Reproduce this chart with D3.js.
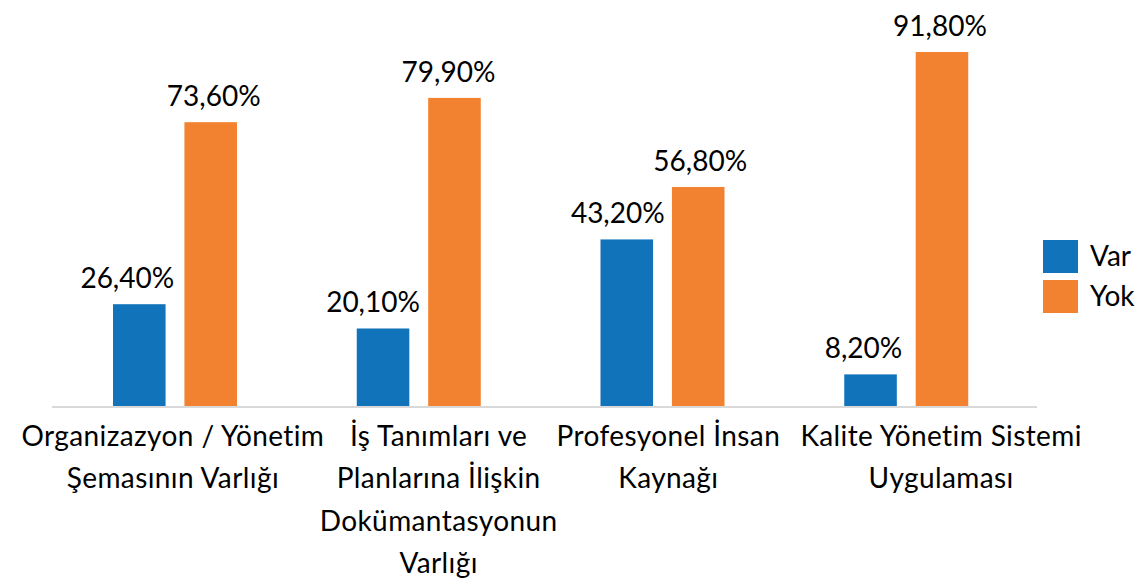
<!DOCTYPE html>
<html>
<head>
<meta charset="utf-8">
<script src="https://cdn.jsdelivr.net/npm/d3@7/dist/d3.min.js"></script>
<style>
  html, body { margin: 0; padding: 0; background: #fff; }
  svg { display: block; }
  text { font-family: Lato, "Open Sans", sans-serif; fill: #000; }
</style>
</head>
<body>
<svg id="chart" width="1138" height="583"></svg>
<script>
// ---- data ----
const categories = [
  "Organizazyon / Yönetim Şemasının Varlığı",
  "İş Tanımları ve Planlarına İlişkin Dokümantasyonun Varlığı",
  "Profesyonel İnsan Kaynağı",
  "Kalite Yönetim Sistemi Uygulaması"
];
const categoryLines = [
  ["Organizazyon / Yönetim", "Şemasının Varlığı"],
  ["İş Tanımları ve", "Planlarına İlişkin", "Dokümantasyonun", "Varlığı"],
  ["Profesyonel İnsan", "Kaynağı"],
  ["Kalite Yönetim Sistemi", "Uygulaması"]
];
const seriesNames = ["Var", "Yok"];
const varValues = [26.4, 20.1, 43.2, 8.2];
const yokValues = [73.6, 79.9, 56.8, 91.8];
const valueLabels = {
  Var: ["26,40%", "20,10%", "43,20%", "8,20%"],
  Yok: ["73,60%", "79,90%", "56,80%", "91,80%"]
};

// ---- layout / style ----
const colors = { Var: "#1173BA", Yok: "#F28230" };
const labelNudge = { Var: [-12, -10, -9, -7], Yok: [3, -6, 2, -2] };
const catLabelNudge = [-2, 20, 6, 35];

const svg = d3.select("#chart");
const baseline = 406;

const x = d3.scaleBand().domain(categories).range([53, 1028]).paddingInner(0).paddingOuter(0);
const xSub = d3.scaleBand().domain(seriesNames).range([60, 184]).paddingInner(0.264).paddingOuter(0);
const y = d3.scaleLinear().domain([0, 100]).range([baseline, baseline - 385.6]);

const data = categories.map((c, i) => ({
  cat: c, idx: i,
  vals: [{ s: "Var", v: varValues[i] }, { s: "Yok", v: yokValues[i] }]
}));

const groups = svg.selectAll("g.grp").data(data).join("g")
  .attr("class", "grp")
  .attr("transform", d => `translate(${x(d.cat)},0)`);

groups.selectAll("rect").data(d => d.vals).join("rect")
  .attr("x", d => xSub(d.s))
  .attr("y", d => y(d.v))
  .attr("width", xSub.bandwidth())
  .attr("height", d => y(0) - y(d.v))
  .attr("fill", d => colors[d.s]);

groups.each(function(d) {
  const g = d3.select(this);
  g.selectAll("text.val").data(d.vals).join("text")
    .attr("class", "val")
    .attr("x", v => xSub(v.s) + xSub.bandwidth() / 2 + labelNudge[v.s][d.idx])
    .attr("y", v => y(v.v) - 16)
    .attr("text-anchor", "middle")
    .attr("font-size", 28)
    .text(v => valueLabels[v.s][d.idx]);
});

// axis line
svg.append("line")
  .attr("x1", 52).attr("x2", 1037)
  .attr("y1", baseline + 1).attr("y2", baseline + 1)
  .attr("stroke", "#d9d9d9").attr("stroke-width", 2);

// category labels
groups.each(function(d) {
  const g = d3.select(this);
  g.selectAll("text.cat").data(categoryLines[d.idx]).join("text")
    .attr("class", "cat")
    .attr("x", x.bandwidth() / 2 + catLabelNudge[d.idx])
    .attr("y", (t, j) => 446 + j * 42.3)
    .attr("text-anchor", "middle")
    .attr("font-size", 28)
    .attr("letter-spacing", 0.4)
    .text(t => t);
});

// legend
const legend = svg.append("g").attr("transform", "translate(1043,240)");
seriesNames.forEach((s, i) => {
  const row = legend.append("g").attr("transform", `translate(0,${i * 40})`);
  row.append("rect").attr("width", 35).attr("height", 33).attr("fill", colors[s]);
  row.append("text").attr("x", 47).attr("y", 26).attr("font-size", 28).text(s);
});
</script>
</body>
</html>
